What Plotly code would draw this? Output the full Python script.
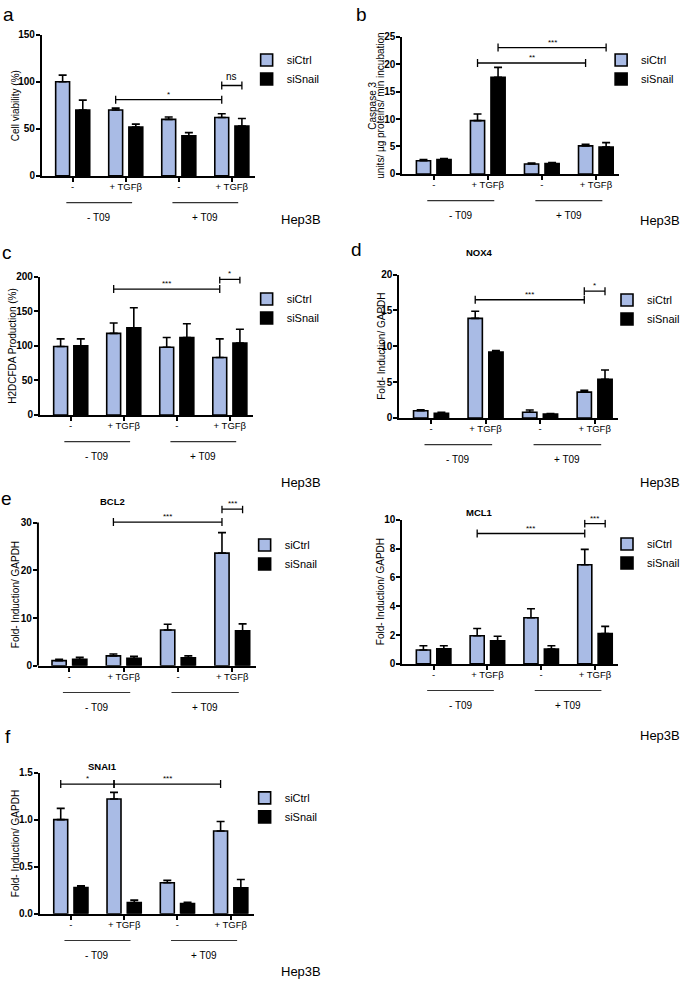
import plotly.graph_objects as go

W, H = 685, 986
FONT = "Liberation Sans, Arial, Helvetica, sans-serif"
CTRL_COLOR = "#A9BBE5"
SNAIL_COLOR = "#000000"

# ---------------- data ----------------
categories = ["-", "+ TGFβ", "-", "+ TGFβ"]
group_labels = ["- T09", "+ T09"]
series_names = ["siCtrl", "siSnail"]
cell_line = "Hep3B"

# (a) cell viability
a_ctrl = [100, 70, 60, 62]
a_ctrl_err = [7, 2, 2.5, 4]
a_snail = [70, 52, 42.5, 53]
a_snail_err = [10.5, 3, 3.5, 8]
a_brackets = [(1, 0, 3, 0, 81, "*"), (3, 0, 3, 1, 96, "ns")]

# (b) caspase 3
b_ctrl = [2.4, 9.7, 1.8, 5.1]
b_ctrl_err = [0.2, 1.2, 0.2, 0.3]
b_snail = [2.6, 17.6, 1.9, 4.9]
b_snail_err = [0.2, 1.8, 0.15, 0.8]
b_brackets = [(1, 0, 3, 0, 20.2, "**"), (1, 1, 3, 1, 23.0, "***")]

# (c) H2DCFDA
c_ctrl = [99, 118, 98, 83]
c_ctrl_err = [11, 15, 14, 27]
c_snail = [100, 126, 112, 104]
c_snail_err = [10, 29, 20, 20]
c_brackets = [(1, 0, 3, 0, 182, "***"), (3, 0, 3, 1, 196, "*")]

# (d) NOX4
d_ctrl = [1.0, 13.9, 0.8, 3.6]
d_ctrl_err = [0.15, 1.0, 0.3, 0.25]
d_snail = [0.65, 9.2, 0.55, 5.4]
d_snail_err = [0.13, 0.2, 0.06, 1.3]
d_brackets = [(1, 0, 3, 0, 16.5, "***"), (3, 0, 3, 1, 17.7, "*")]

# (e) BCL2
e_ctrl = [1.1, 2.1, 7.5, 23.6]
e_ctrl_err = [0.3, 0.4, 1.2, 4.3]
e_snail = [1.4, 1.6, 1.7, 7.35]
e_snail_err = [0.4, 0.4, 0.4, 1.45]
e_brackets = [(1, 0, 3, 0, 30.1, "***"), (3, 0, 3, 1, 32.8, "***")]

# (e) MCL1
m_ctrl = [0.96, 1.95, 3.2, 6.87]
m_ctrl_err = [0.3, 0.5, 0.62, 1.07]
m_snail = [1.05, 1.6, 1.03, 2.1]
m_snail_err = [0.21, 0.32, 0.23, 0.5]
m_brackets = [(1, 0, 3, 0, 9.04, "***"), (3, 0, 3, 1, 9.73, "***")]

# (f) SNAI1
f_ctrl = [1.0, 1.22, 0.33, 0.88]
f_ctrl_err = [0.12, 0.07, 0.025, 0.1]
f_snail = [0.28, 0.12, 0.108, 0.276]
f_snail_err = [0.017, 0.025, 0.014, 0.088]
f_brackets = [(0, 0, 1, 0, 1.378, "*"), (1, 0, 3, 0, 1.378, "***")]

# ---------------- panel layout (pixels) ----------------
FOLD = "Fold- Induction/ GAPDH"
panels = [
    dict(letter="a", letter_pos=(9, 9), title=None, ytitle=[("Cell viability (%)", 15)],
         ctrl=a_ctrl, ctrl_err=a_ctrl_err, snail=a_snail, snail_err=a_snail_err, brackets=a_brackets,
         yticks=[0, 50, 100, 150], yrange=[0, 150], axis_top=150, fmt="",
         box=(42, 255, 29, 172), legend=(287, 57), hep=(301, 216)),
    dict(letter="b", letter_pos=(362, 9), title=None,
         ytitle=[("Caspase 3", 373), ("units/ µg proteins/ min incubation", 381)],
         ctrl=b_ctrl, ctrl_err=b_ctrl_err, snail=b_snail, snail_err=b_snail_err, brackets=b_brackets,
         yticks=[0, 5, 10, 15, 20, 25], yrange=[0, 25], axis_top=25, fmt="",
         box=(403, 620, 31, 170), legend=(642, 57), hep=(661, 217)),
    dict(letter="c", letter_pos=(7, 250), title=None, ytitle=[("H2DCFDA Production (%)", 13)],
         ctrl=c_ctrl, ctrl_err=c_ctrl_err, snail=c_snail, snail_err=c_snail_err, brackets=c_brackets,
         yticks=[0, 50, 100, 150, 200], yrange=[0, 200], axis_top=200, fmt="",
         box=(40, 253, 274, 414), legend=(287, 299), hep=(301, 482)),
    dict(letter="d", letter_pos=(357, 247), title=("NOX4", 480, 250), ytitle=[(FOLD, 382)],
         ctrl=d_ctrl, ctrl_err=d_ctrl_err, snail=d_snail, snail_err=d_snail_err, brackets=d_brackets,
         yticks=[0, 5, 10, 15, 20], yrange=[0, 20], axis_top=20, fmt="",
         box=(400, 619, 272, 417), legend=(648, 300), hep=(661, 482)),
    dict(letter="e", letter_pos=(7, 499), title=("BCL2", 113, 502), ytitle=[(FOLD, 15)],
         ctrl=e_ctrl, ctrl_err=e_ctrl_err, snail=e_snail, snail_err=e_snail_err, brackets=e_brackets,
         yticks=[0, 10, 20, 30], yrange=[0, 33.5], axis_top=30, fmt="",
         box=(38, 256, 506, 668), legend=(285, 548), hep=None),
    dict(letter=None, letter_pos=None, title=("MCL1", 480, 513), ytitle=[(FOLD, 381)],
         ctrl=m_ctrl, ctrl_err=m_ctrl_err, snail=m_snail, snail_err=m_snail_err, brackets=m_brackets,
         yticks=[0, 2, 4, 6, 8, 10], yrange=[0, 10], axis_top=10, fmt="",
         box=(403, 619, 520, 666), legend=(648, 547), hep=(661, 738)),
    dict(letter="f", letter_pos=(8, 739), title=("SNAI1", 103, 770), ytitle=[(FOLD, 15)],
         ctrl=f_ctrl, ctrl_err=f_ctrl_err, snail=f_snail, snail_err=f_snail_err, brackets=f_brackets,
         yticks=[0, 0.5, 1.0, 1.5], yrange=[0, 1.5], axis_top=1.5, fmt=".1f",
         box=(40, 254, 776, 919), legend=(285, 804), hep=(301, 977)),
]

XRANGE = [-0.58, 3.43]
BAR_GAP = 0.24
BAR_GROUP_GAP = 0.31
SLOT = (1 - BAR_GAP) / 2
OFFSETS = [-SLOT / 2, SLOT / 2]


def px_x(px):
    return px / W


def px_y(py):
    return 1 - py / H


fig = go.Figure()
shapes = []
annotations = []
layout = {}

for i, p in enumerate(panels):
    n = i + 1
    xs = "" if n == 1 else str(n)
    xa, ya = "x" + xs, "y" + xs
    leg = "legend" if n == 1 else f"legend{n}"
    x0, x1, yt, yb = p["box"]
    cats = list(range(len(categories)))

    for s, (vals, errs, col) in enumerate([(p["ctrl"], p["ctrl_err"], CTRL_COLOR),
                                           (p["snail"], p["snail_err"], SNAIL_COLOR)]):
        fig.add_trace(go.Bar(
            x=cats, y=vals, name=series_names[s],
            marker=dict(color=col, line=dict(color="black", width=1.6)),
            error_y=dict(type="data", array=errs, arrayminus=[0] * len(errs), symmetric=False,
                         color="black", thickness=1.6, width=4),
            xaxis=xa, yaxis=ya, legend=leg, showlegend=True, hoverinfo="skip",
        ))

    layout["xaxis" + xs] = dict(
        domain=[px_x(x0), px_x(x1)], range=XRANGE, anchor=ya,
        tickmode="array", tickvals=cats, ticktext=categories,
        ticks="outside", ticklen=4, tickwidth=1.6, tickcolor="black", ticklabelstandoff=-3,
        showline=True, linewidth=2, linecolor="black", showgrid=False, zeroline=False,
        tickfont=dict(size=9.5, family=FONT, color="black"), fixedrange=True,
    )
    separate_line = p["yrange"][1] != p["axis_top"]
    layout["yaxis" + xs] = dict(
        domain=[px_y(yb), px_y(yt)], range=p["yrange"], anchor=xa,
        tickmode="array", tickvals=p["yticks"], tickformat=p["fmt"],
        ticks="outside", ticklen=4, tickwidth=1.6, tickcolor="black", ticklabelstandoff=-1,
        showline=not separate_line, linewidth=2, linecolor="black", showgrid=False, zeroline=False,
        tickfont=dict(size=10, family=FONT, color="black", weight="bold"), fixedrange=True,
    )
    if separate_line:
        shapes.append(dict(type="line", xref=xa + " domain", yref=ya, x0=0, x1=0,
                           y0=0, y1=p["axis_top"], line=dict(color="black", width=2)))

    # legend
    lx, ly = p["legend"]
    layout[leg] = dict(x=px_x(lx - 40), y=px_y(ly - 17), xanchor="left", yanchor="top",
                       font=dict(size=11, family=FONT, color="black"),
                       bgcolor="rgba(0,0,0,0)", borderwidth=0, tracegroupgap=0,
                       itemclick=False, itemdoubleclick=False)

    # significance brackets
    for (c1, s1, c2, s2, yv, lab) in p["brackets"]:
        bx1 = c1 + OFFSETS[s1]
        bx2 = c2 + OFFSETS[s2]
        shapes.append(dict(type="line", xref=xa, yref=ya, x0=bx1, x1=bx2, y0=yv, y1=yv,
                           line=dict(color="black", width=1.3)))
        for bx in (bx1, bx2):
            shapes.append(dict(type="line", xref=xa, yref=ya, x0=bx, x1=bx,
                               ysizemode="pixel", yanchor=yv, y0=-4, y1=4,
                               line=dict(color="black", width=1.3)))
        annotations.append(dict(x=(bx1 + bx2) / 2, y=yv, xref=xa, yref=ya, text=lab,
                                showarrow=False, yanchor="bottom", xanchor="center",
                                yshift=-1 if lab != "ns" else 1,
                                font=dict(size=8 if lab != "ns" else 10, family=FONT, color="black")))

    # group lines and labels
    for g, glab in enumerate(group_labels):
        gx0 = 2 * g - 0.12
        gx1 = 2 * g + 1.12
        shapes.append(dict(type="line", xref=xa, yref="paper", x0=gx0, x1=gx1,
                           y0=px_y(yb + 27), y1=px_y(yb + 27),
                           line=dict(color="#333333", width=1.1)))
        annotations.append(dict(x=2 * g + 0.5, y=px_y(yb + 42), xref=xa, yref="paper", text=glab,
                                showarrow=False, xanchor="center", yanchor="middle",
                                font=dict(size=10, family=FONT, color="black")))

    # y axis title (one annotation per line)
    axis_top_px = yb - (yb - yt) * p["axis_top"] / p["yrange"][1]
    for txt, tx in p["ytitle"]:
        annotations.append(dict(x=px_x(tx), y=px_y((axis_top_px + yb) / 2),
                                xref="paper", yref="paper", text=txt, textangle=-90,
                                showarrow=False, xanchor="center", yanchor="middle",
                                font=dict(size=10, family=FONT, color="black")))

    if p["letter"]:
        lx_, ly_ = p["letter_pos"]
        annotations.append(dict(x=px_x(lx_), y=px_y(ly_), xref="paper", yref="paper", text=p["letter"],
                                showarrow=False, xanchor="center", yanchor="middle",
                                font=dict(size=19, family=FONT, color="black")))
    if p["title"]:
        t, tx, ty = p["title"]
        annotations.append(dict(x=px_x(tx), y=px_y(ty), xref="paper", yref="paper", text=t,
                                showarrow=False, xanchor="center", yanchor="middle",
                                font=dict(size=9.5, family=FONT, color="black", weight="bold")))
    if p["hep"]:
        hx, hy = p["hep"]
        annotations.append(dict(x=px_x(hx), y=px_y(hy), xref="paper", yref="paper", text=cell_line,
                                showarrow=False, xanchor="center", yanchor="middle",
                                font=dict(size=13, family=FONT, color="black")))

fig.update_layout(
    width=W, height=H, autosize=False,
    margin=dict(l=0, r=0, t=0, b=0),
    paper_bgcolor="white", plot_bgcolor="white",
    barmode="group", bargap=BAR_GAP, bargroupgap=BAR_GROUP_GAP,
    font=dict(family=FONT, color="black"),
    shapes=shapes, annotations=annotations,
    **layout,
)

fig.write_html("out.html", config={"displayModeBar": False},
               post_script="document.body.style.margin='0px';")
